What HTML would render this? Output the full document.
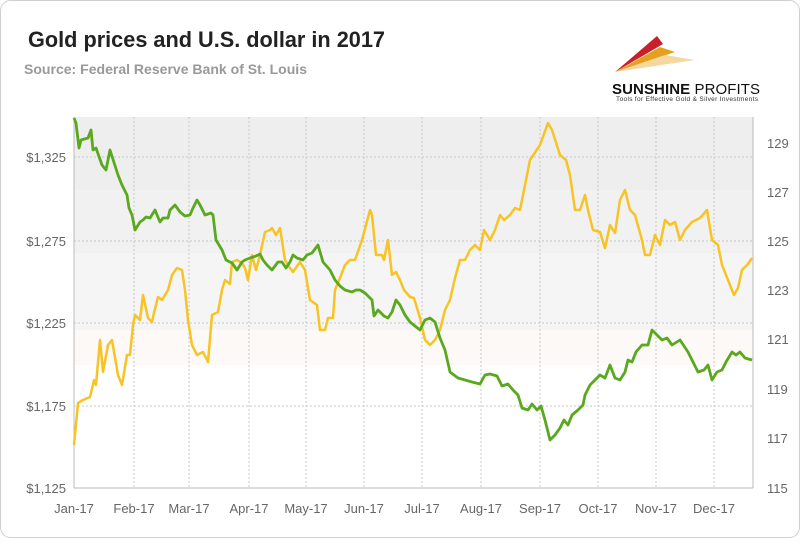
<!DOCTYPE html>
<html><head><meta charset="utf-8"><style>
html,body{margin:0;padding:0;background:#fff;}
body{width:800px;height:538px;overflow:hidden;font-family:"Liberation Sans",sans-serif;}
</style></head><body>
<svg width="800" height="538" xmlns="http://www.w3.org/2000/svg" font-family="Liberation Sans, sans-serif">
<rect x="0.5" y="0.5" width="799" height="537" rx="10" fill="#fff" stroke="#cfcfcf"/>
<text x="28" y="47" font-size="22" font-weight="bold" fill="#222" textLength="357" lengthAdjust="spacingAndGlyphs">Gold prices and U.S. dollar in 2017</text>
<text x="24" y="74" font-size="14" font-weight="bold" fill="#999" textLength="283" lengthAdjust="spacingAndGlyphs">Source: Federal Reserve Bank of St. Louis</text>
<g>
<polygon points="410,72 452,36 458,44" fill="#c8202a"/>
<polygon points="410,72 455,47 470,52" fill="#e6a020"/>
<polygon points="410,72 460,55 490,60" fill="#f3d9a0"/>
</g>
<g transform="translate(205,0)">
<polygon points="410,72 452,36 458,44" fill="#c8202a"/>
<polygon points="410,72 455,47 470,52" fill="#e6a020"/>
<polygon points="410,72 460,55 490,60" fill="#f3d9a0"/>
</g>
<rect x="405" y="30" width="90" height="48" fill="#fff"/>
<text x="612" y="94" font-size="15" font-weight="bold" fill="#111" textLength="148">SUNSHINE <tspan font-weight="normal">PROFITS</tspan></text>
<text x="616" y="101" font-size="6.5" fill="#333" textLength="142">Tools for Effective Gold &amp; Silver Investments</text>
<rect x="74" y="117" width="679" height="73" fill="#eeeeee"/>
<rect x="74" y="190" width="679" height="63" fill="#f1f1f2"/>
<rect x="74" y="253" width="679" height="77" fill="#f5f5f5"/>
<rect x="74" y="330" width="679" height="35" fill="#fdf9f6"/>
<g stroke="#c8c8c8" stroke-dasharray="2,2" stroke-width="1">
<line x1="74" x2="753" y1="157" y2="157"/><line x1="74" x2="753" y1="241" y2="241"/>
<line x1="74" x2="753" y1="323" y2="323"/><line x1="74" x2="753" y1="406" y2="406"/>
<line x1="134" x2="134" y1="117" y2="488"/><line x1="189" x2="189" y1="117" y2="488"/>
<line x1="249" x2="249" y1="117" y2="488"/><line x1="306" x2="306" y1="117" y2="488"/>
<line x1="364" x2="364" y1="117" y2="488"/><line x1="422" x2="422" y1="117" y2="488"/>
<line x1="481" x2="481" y1="117" y2="488"/><line x1="540" x2="540" y1="117" y2="488"/>
<line x1="598" x2="598" y1="117" y2="488"/><line x1="656" x2="656" y1="117" y2="488"/>
<line x1="714" x2="714" y1="117" y2="488"/>
</g>
<line x1="74" x2="74" y1="117" y2="488" stroke="#bbb"/>
<line x1="753" x2="753" y1="117" y2="488" stroke="#bbb"/>
<line x1="74" x2="753" y1="488" y2="488" stroke="#bbb"/>
<g font-size="13" fill="#666" text-anchor="end">
<text x="66" y="162">$1,325</text><text x="66" y="246">$1,275</text><text x="66" y="328">$1,225</text><text x="66" y="411">$1,175</text><text x="66" y="493">$1,125</text>
</g>
<g font-size="13" fill="#666">
<text x="767" y="148">129</text><text x="767" y="197">127</text><text x="767" y="246">125</text><text x="767" y="295">123</text><text x="767" y="344">121</text><text x="767" y="394">119</text><text x="767" y="443">117</text><text x="767" y="493">115</text>
</g>
<g font-size="13" fill="#666" text-anchor="middle">
<text x="74" y="513">Jan-17</text><text x="134" y="513">Feb-17</text><text x="189" y="513">Mar-17</text><text x="249" y="513">Apr-17</text><text x="306" y="513">May-17</text><text x="364" y="513">Jun-17</text><text x="422" y="513">Jul-17</text><text x="481" y="513">Aug-17</text><text x="540" y="513">Sep-17</text><text x="598" y="513">Oct-17</text><text x="656" y="513">Nov-17</text><text x="714" y="513">Dec-17</text>
</g>
<polyline fill="none" stroke="#f7c325" stroke-width="2.5" stroke-linejoin="round" points="74,445 78,403 83,400 90,397 94,380 96,385 100,340 103,372 108,345 112,340 118,375 122,385 127,355 130,355 133,325 135,315 140,320 143,295 148,318 152,322 154,313 158,297 162,300 168,290 172,275 177,268 182,270 185,290 188,320 192,345 197,355 203,352 208,362 212,315 218,312 222,290 225,280 230,284 232,262 237,260 242,263 245,268 248,280 252,255 256,270 260,255 265,232 270,230 272,228 276,235 280,228 285,260 290,268 293,272 300,262 305,270 310,300 317,305 320,330 325,330 328,318 333,318 335,290 340,278 345,265 350,260 355,260 362,240 370,210 372,215 376,255 382,255 384,260 388,240 392,275 396,272 400,280 404,290 410,297 414,298 420,318 425,340 430,345 435,340 440,330 445,310 450,300 455,278 460,260 465,260 470,250 475,245 480,250 484,230 490,240 495,230 500,215 504,220 510,215 515,208 520,210 525,185 530,160 540,145 548,123 552,130 560,155 566,160 570,175 575,210 580,210 585,195 588,210 593,230 600,232 605,248 610,225 615,233 620,200 625,190 630,210 635,215 642,240 645,255 650,255 655,235 660,245 665,220 670,225 675,222 680,240 685,230 692,222 700,218 707,210 712,240 718,245 722,265 728,280 734,295 738,288 742,270 748,264 752,258"/>
<polyline fill="none" stroke="#5aa81e" stroke-width="2.8" stroke-linejoin="round" points="74,118 76,123 79,148 81,140 88,138 91,130 93,150 96,148 102,165 106,170 110,150 118,175 122,185 127,195 129,208 132,215 135,230 140,222 143,220 146,217 150,218 155,210 160,222 163,218 168,218 170,210 175,205 180,212 185,216 190,215 193,208 197,200 200,205 205,215 211,213 213,215 216,240 222,250 226,260 232,263 237,270 242,262 245,260 250,258 256,256 260,254 263,260 267,265 272,270 278,262 282,262 286,268 290,262 293,255 297,258 303,260 307,255 312,253 318,245 323,262 330,270 335,280 340,286 345,290 352,292 356,290 360,290 365,293 372,300 374,316 378,310 384,316 388,318 392,312 396,300 400,305 405,315 410,322 415,326 420,330 425,320 430,318 435,322 440,338 445,350 450,372 458,378 465,380 472,382 480,384 485,375 490,374 497,376 502,386 508,384 513,390 518,395 522,408 528,410 532,404 537,410 541,406 545,420 550,440 555,435 560,428 564,420 568,425 572,415 578,410 583,405 585,395 590,385 595,380 600,375 605,378 610,365 615,378 620,380 625,372 628,360 632,362 636,352 642,345 648,345 652,330 657,335 662,340 667,338 672,345 680,340 688,352 692,360 698,372 704,370 708,365 712,380 717,372 722,370 726,362 732,352 736,355 740,352 745,358 752,360"/>
</svg>
</body></html>
